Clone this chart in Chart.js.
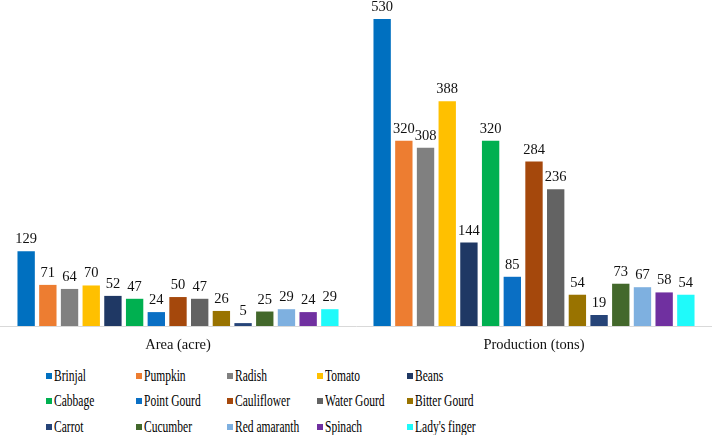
<!DOCTYPE html>
<html>
<head>
<meta charset="utf-8">
<script src="https://cdn.jsdelivr.net/npm/chart.js@4.4.1/dist/chart.umd.min.js"></script>
<style>
  html, body { margin: 0; padding: 0; background: #fff; }
  #wrap { position: relative; width: 712px; height: 435px; overflow: hidden; }
  #c { position: absolute; left: 0; top: 0; }
  #legend { position: absolute; left: 46px; top: 363px; display: grid;
            grid-template-columns: repeat(5, 90.25px); grid-auto-rows: 25.5px; }
  .item { display: flex; align-items: center; white-space: nowrap; }
  .sw { width: 6px; height: 6px; margin-right: 2px; flex: none; }
  .tx { display: inline-block; font-family: "Liberation Serif", "Times New Roman", Times, serif;
        font-size: 16px; color: #000; transform: scaleX(0.72); transform-origin: left center; }
</style>
</head>
<body>
<div id="wrap">
  <canvas id="c" width="712" height="362"></canvas>
  <div id="legend"></div>
</div>
<script>
const categories = ["Area (acre)", "Production (tons)"];
const crops = ["Brinjal", "Pumpkin", "Radish", "Tomato", "Beans",
               "Cabbage", "Point Gourd", "Cauliflower", "Water Gourd", "Bitter Gourd",
               "Carrot", "Cucumber", "Red amaranth", "Spinach", "Lady's finger"];
const areaValues = [129, 71, 64, 70, 52, 47, 24, 50, 47, 26, 5, 25, 29, 24, 29];
const productionValues = [530, 320, 308, 388, 144, 320, 85, 284, 236, 54, 19, 73, 67, 58, 54];
const colors = ["#0070C0", "#ED7D31", "#808080", "#FFC000", "#1F3864",
                "#00B050", "#0A6FC4", "#A5480C", "#636363", "#997300",
                "#264478", "#43682B", "#7EB0E0", "#7030A0", "#1FFAFA"];

const datasets = crops.map((name, i) => ({
  label: name,
  data: [areaValues[i], productionValues[i]],
  backgroundColor: colors[i],
  borderWidth: 0,
  barPercentage: 0.8,
  categoryPercentage: 0.914
}));

const valueLabels = {
  id: 'valueLabels',
  afterDatasetsDraw(chart) {
    const ctx = chart.ctx;
    ctx.save();
    ctx.font = '14.5px "Liberation Serif", "Times New Roman", serif';
    ctx.fillStyle = '#111';
    ctx.textAlign = 'center';
    ctx.textBaseline = 'alphabetic';
    chart.data.datasets.forEach((ds, di) => {
      const meta = chart.getDatasetMeta(di);
      meta.data.forEach((el, j) => {
        ctx.fillText(String(ds.data[j]), el.x, el.y - 8);
      });
    });
    ctx.restore();
  }
};

new Chart(document.getElementById('c'), {
  type: 'bar',
  data: { labels: categories, datasets },
  options: {
    responsive: false,
    animation: false,
    devicePixelRatio: 1,
    layout: { padding: { top: 0, left: 0, right: 0, bottom: 0 } },
    plugins: { legend: { display: false }, tooltip: { enabled: false } },
    scales: {
      x: {
        grid: { display: false, drawTicks: false },
        border: { display: true, color: '#D9D9D9', width: 1 },
        ticks: { color: '#111', padding: 10,
                 font: { family: '"Liberation Serif", "Times New Roman", serif', size: 14.5 } },
        afterFit(scale) { scale.height = 36; }
      },
      y: { display: false, min: 0, max: 563 }
    }
  },
  plugins: [valueLabels]
});

const legend = document.getElementById('legend');
crops.forEach((name, i) => {
  const item = document.createElement('div');
  item.className = 'item';
  const sw = document.createElement('span');
  sw.className = 'sw';
  sw.style.background = colors[i];
  const tx = document.createElement('span');
  tx.className = 'tx';
  tx.textContent = name;
  item.appendChild(sw);
  item.appendChild(tx);
  legend.appendChild(item);
});
</script>
</body>
</html>
